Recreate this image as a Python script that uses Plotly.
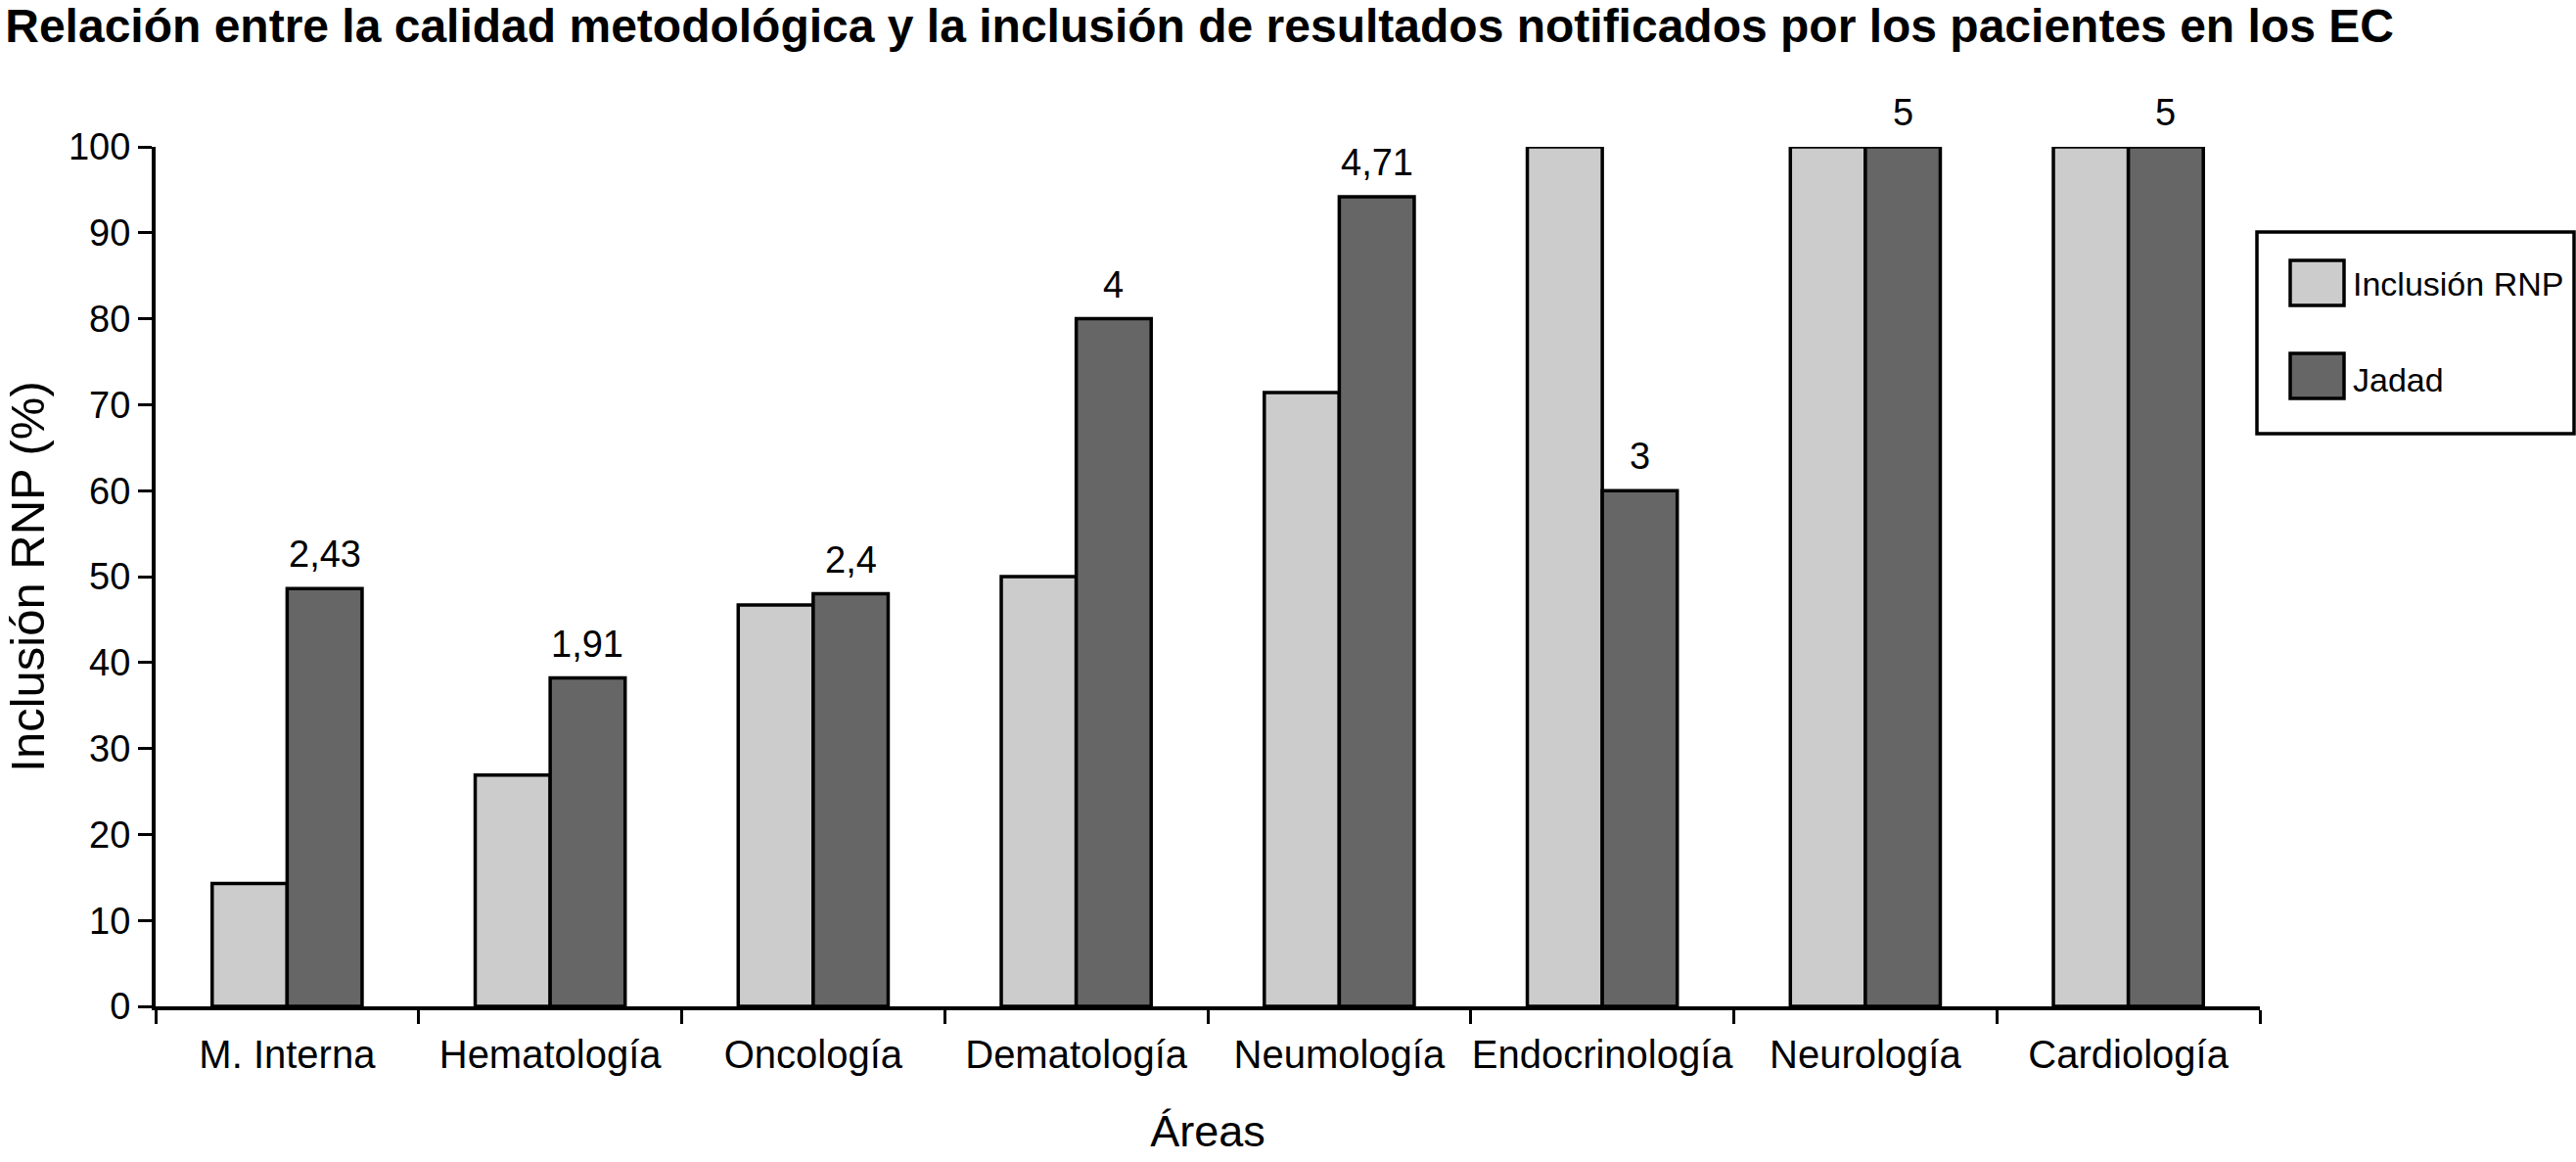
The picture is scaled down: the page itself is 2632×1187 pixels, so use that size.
import plotly.graph_objects as go

# ---- data ----
areas = ["M. Interna", "Hematología", "Oncología", "Dematología", "Neumología",
         "Endocrinología", "Neurología", "Cardiología"]
inclusion_rnp = [14.3, 26.9, 46.7, 50.0, 71.4, 100, 100, 100]
jadad_pct = [48.6, 38.2, 48.0, 80.0, 94.2, 60.0, 100, 100]
jadad_labels = ["2,43", "1,91", "2,4", "4", "4,71", "3", "5", "5"]
series_names = ["Inclusión RNP", "Jadad"]
y_ticks = list(range(0, 101, 10))

# ---- style ----
W, H = 2632, 1187
ML, MR, MT, MB = 159, 323, 150, 159
FONT = "Liberation Sans, Arial, Helvetica, sans-serif"
LIGHT, DARK = "#cccccc", "#666666"

fig = go.Figure()
fig.add_trace(go.Bar(x=areas, y=inclusion_rnp, name=series_names[0],
                     marker=dict(color=LIGHT, line=dict(color="black", width=3.5)),
                     showlegend=False))
fig.add_trace(go.Bar(x=areas, y=jadad_pct, name=series_names[1],
                     marker=dict(color=DARK, line=dict(color="black", width=3.5)),
                     showlegend=False))

# value labels above the Jadad bars
plot_w = W - ML - MR
plot_h = H - MT - MB
cat_w = plot_w / len(areas)
bargap = 0.43
bar_w = cat_w * (1 - bargap) / 2
for a, v, t in zip(areas, jadad_pct, jadad_labels):
    fig.add_annotation(x=a, y=v, text=t, showarrow=False, xref="x", yref="y",
                       xshift=bar_w / 2, yshift=12, yanchor="bottom",
                       font=dict(family=FONT, size=38, color="black"))

# custom legend (paper coordinates derived from pixel layout)
def px(xp):
    return (xp - ML) / plot_w
def py(yp):
    return (H - MB - yp) / plot_h

fig.add_shape(type="rect", xref="paper", yref="paper",
              x0=px(2306), x1=px(2630), y0=py(443), y1=py(237),
              line=dict(color="black", width=3.5), fillcolor="white")
for i, (nm, col) in enumerate(zip(series_names, [LIGHT, DARK])):
    top = 266 + i * 95
    fig.add_shape(type="rect", xref="paper", yref="paper",
                  x0=px(2340), x1=px(2395), y0=py(top + 46), y1=py(top),
                  line=dict(color="black", width=3.5), fillcolor=col)
    fig.add_annotation(x=px(2402), y=py(top + 24 + i * 3), xref="paper", yref="paper",
                       text=nm, showarrow=False, xanchor="left", yanchor="middle",
                       font=dict(family=FONT, size=34, color="black"))

fig.update_layout(
    width=W, height=H,
    margin=dict(l=ML, r=MR, t=MT, b=MB),
    plot_bgcolor="white", paper_bgcolor="white",
    barmode="group", bargap=bargap, bargroupgap=0,
    title=dict(text="<b>Relación entre la calidad metodológica y la inclusión de resultados notificados por los pacientes en los EC</b>",
               x=0.002, xanchor="left", xref="container",
               y=0.992, yanchor="top", yref="container",
               font=dict(family=FONT, size=48, color="black")),
    xaxis=dict(title=dict(text="Áreas", font=dict(family=FONT, size=45, color="black"), standoff=42),
               showline=True, linecolor="black", linewidth=4,
               ticks="outside", tickson="boundaries", ticklen=14, tickwidth=3, tickcolor="black",
               tickfont=dict(family=FONT, size=40, color="black"), tickangle=0,
               ticklabelstandoff=11, showgrid=False, zeroline=False, automargin=False),
    yaxis=dict(title=dict(text="Inclusión RNP (%)", font=dict(family=FONT, size=49, color="black"), standoff=10),
               range=[0, 100], tickvals=y_ticks,
               showline=True, linecolor="black", linewidth=4,
               ticks="outside", ticklen=14, tickwidth=3, tickcolor="black",
               tickfont=dict(family=FONT, size=38, color="black"),
               showgrid=False, zeroline=False, automargin=False),
)

fig.write_html("out.html", config={"displayModeBar": False},
               post_script="document.body.style.margin='0px';")
